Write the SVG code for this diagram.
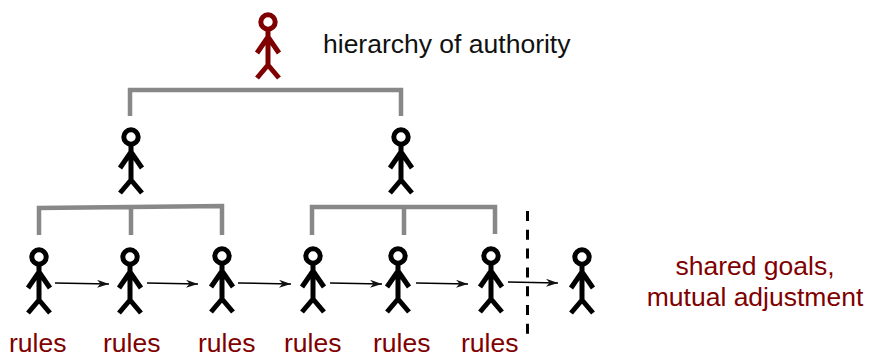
<svg xmlns="http://www.w3.org/2000/svg" width="869" height="354" viewBox="0 0 869 354">
<style>
text{font-family:"Liberation Sans",Arial,sans-serif;font-size:26.5px}
.red{fill:#7f0000}
.lab{fill:#111}
.p{fill:none;stroke:#000;stroke-width:5}
.rp{stroke:#7f0000}
.g{fill:none;stroke:#888;stroke-width:4.500}
.a{fill:none;stroke:#000;stroke-width:1.500}
</style>
<defs>
<marker id="ah" markerUnits="userSpaceOnUse" markerWidth="14" markerHeight="10" refX="12" refY="4" orient="auto"><path d="M0 0L12 4L0 8L3.500 4Z" fill="#111"/></marker>
<g id="person"><circle cx="0" cy="0" r="7.200"/><path d="M0 7V44M0 43L-11 56M0 43L11 56M0 15L-11 31M0 15L11 31"/></g>
</defs>
<g id="connectors">
<path class="g" d="M130 116V90H401V116"/>
<path class="g" d="M39 235V208L222 206V235M131 208V235"/>
<path class="g" d="M312 235V207H495V234M404 207V235"/>
<path class="a" d="M55 283L109 284" marker-end="url(#ah)"/>
<path class="a" d="M147 283L198 284" marker-end="url(#ah)"/>
<path class="a" d="M238 283L291 284" marker-end="url(#ah)"/>
<path class="a" d="M330 283L382 284" marker-end="url(#ah)"/>
<path class="a" d="M416 283L468 284" marker-end="url(#ah)"/>
<path class="a" d="M508 282L558 283" marker-end="url(#ah)"/>
<path d="M527.500 211V334" fill="none" stroke="#000" stroke-width="3" stroke-dasharray="10 8.800"/>
</g>
<g id="top" class="p rp"><use href="#person" x="268" y="22"/></g>
<g id="m1" class="p"><use href="#person" x="131" y="137"/></g>
<g id="m2" class="p"><use href="#person" x="401" y="137"/></g>
<g id="w1" class="p"><use href="#person" x="39" y="257"/></g>
<g id="w2" class="p"><use href="#person" x="130" y="257"/></g>
<g id="w3" class="p"><use href="#person" x="222" y="256"/></g>
<g id="w4" class="p"><use href="#person" x="313" y="256"/></g>
<g id="w5" class="p"><use href="#person" x="398" y="256"/></g>
<g id="w6" class="p"><use href="#person" x="491" y="256"/></g>
<g id="w7" class="p"><use href="#person" x="582" y="257"/></g>
<g id="labels">
<text class="lab" x="323" y="53">hierarchy of authority</text>
<text class="red" x="9" y="352">rules</text>
<text class="red" x="103" y="352">rules</text>
<text class="red" x="198" y="352">rules</text>
<text class="red" x="284" y="352">rules</text>
<text class="red" x="373" y="352">rules</text>
<text class="red" x="461" y="352">rules</text>
<text class="red" x="755" y="275" text-anchor="middle">shared goals,</text>
<text class="red" x="755" y="306" text-anchor="middle">mutual adjustment</text>
</g>
</svg>
